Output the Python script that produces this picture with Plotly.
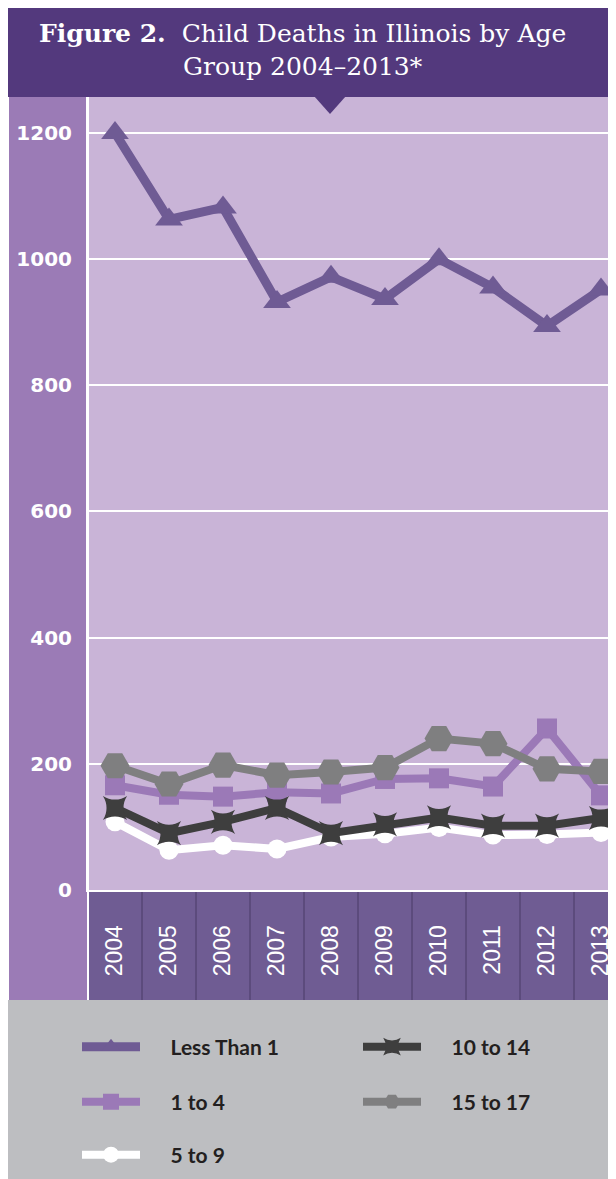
import plotly.graph_objects as go

# ---- data ----
years = ["2004", "2005", "2006", "2007", "2008", "2009", "2010", "2011", "2012", "2013"]
less_than_1 = [1200, 1063, 1082, 932, 972, 937, 1000, 955, 894, 952]
age_1_4 = [166, 151, 148, 155, 153, 176, 177, 164, 256, 150]
age_5_9 = [108, 63, 71, 65, 84, 89, 99, 87, 88, 91]
age_10_14 = [130, 90, 108, 130, 90, 104, 115, 102, 102, 114]
age_15_17 = [197, 168, 198, 182, 187, 194, 240, 232, 192, 188]
y_ticks = [0, 200, 400, 600, 800, 1000, 1200]

# ---- geometry (figure sits at an 8px page offset) ----
OFF = 8
W, H = 608, 1171
L, R, T, B = 80, 608, 89, 882          # plot area in figure pixels
BAND = 54.0                            # pixel width of one year column
def fx(p):  # window pixel x -> paper
    return (p - OFF - L) / (R - L)
def fy(p):  # window pixel y -> paper
    return (B - (p - OFF)) / (B - T)

BANNER = "#53397D"
LEFTCOL = "#9B7BB6"
PLOTBG = "#C9B4D7"
XBAND = "#6F5C93"
LEGBG = "#BDBEC1"

series = [
    ("Less Than 1", less_than_1, "#6F5B94", "triangle-up", 24, 9, "legend"),
    ("1 to 4", age_1_4, "#9B79B7", "square", 20, 8, "legend3"),
    ("5 to 9", age_5_9, "#FFFFFF", "circle", 19, 8, "legend5"),
    ("10 to 14", age_10_14, "#3E3E3E", "star-square", 22, 8, "legend2"),
    ("15 to 17", age_15_17, "#7F7F80", "hexagon2", 29, 8, "legend4"),
]
PAD = "\u00a0" * 5

fig = go.Figure()
for name, vals, col, sym, size, lw, leg in series:
    fig.add_trace(go.Scatter(
        x=years, y=vals, name=PAD + name, mode="lines+markers",
        line=dict(color=col, width=lw),
        marker=dict(symbol=sym, size=size, color=col, line=dict(width=0)),
        legend=leg, showlegend=True,
    ))

shapes = [
    dict(type="rect", xref="paper", yref="paper", x0=fx(8), x1=fx(8 + W), y0=fy(8), y1=fy(97),
         fillcolor=BANNER, line=dict(width=0), layer="below"),
    dict(type="path", xref="paper", yref="paper",
         path=f"M{fx(314)},{fy(96)} L{fx(346)},{fy(96)} L{fx(330)},{fy(114)} Z",
         fillcolor=BANNER, line=dict(width=0), layer="above"),
    dict(type="rect", xref="paper", yref="paper", x0=fx(9), x1=fx(88), y0=fy(97), y1=fy(1000),
         fillcolor=LEFTCOL, line=dict(width=0), layer="below"),
    dict(type="rect", xref="paper", yref="paper", x0=0, x1=1, y0=fy(890), y1=fy(1000),
         fillcolor=XBAND, line=dict(width=0), layer="below"),
    dict(type="rect", xref="paper", yref="paper", x0=fx(8), x1=fx(8 + W), y0=fy(1000), y1=fy(8 + H),
         fillcolor=LEGBG, line=dict(width=0), layer="below"),
    dict(type="line", xref="paper", yref="paper", x0=0, x1=0, y0=fy(97), y1=fy(1000),
         line=dict(color="white", width=2), layer="below"),
]
for i in range(len(years) - 1):
    shapes.append(dict(type="line", xref="x", yref="paper", x0=i + 0.5, x1=i + 0.5,
                       y0=fy(891), y1=fy(1000), line=dict(color="#4A3B66", width=1), layer="below"))

fig.update_layout(
    width=W, height=H,
    margin=dict(l=L, r=W - R, t=T, b=H - B, pad=0),
    paper_bgcolor="white", plot_bgcolor=PLOTBG,
    shapes=shapes,
    xaxis=dict(type="category", range=[-0.5, -0.5 + (R - L) / BAND], tickangle=-90,
               tickfont=dict(family="Liberation Sans", size=23, color="white"),
               ticklabelstandoff=24, showgrid=False, showline=True, linecolor="white",
               linewidth=2, ticks="", zeroline=False),
    yaxis=dict(range=[0, 1257], tickvals=y_ticks, ticks="",
               tickfont=dict(family="DejaVu Sans", size=20, color="white", weight="bold"),
               ticklabelstandoff=10, showgrid=True, gridcolor="white", gridwidth=2,
               showline=True, linecolor="white", linewidth=2,
               zeroline=True, zerolinecolor="white", zerolinewidth=2),
    annotations=[dict(
        xref="paper", yref="paper", x=fx(302), y=fy(50), xanchor="center", yanchor="middle",
        showarrow=False, align="center",
        text="<b>Figure 2.</b>  Child Deaths in Illinois by Age<br>Group 2004–2013*",
        font=dict(family="DejaVu Serif", size=25, color="white"),
    )],
    showlegend=True,
)

leg_common = dict(orientation="h", xref="paper", yref="paper", xanchor="left", yanchor="middle",
                  bgcolor="rgba(0,0,0,0)", borderwidth=0, itemwidth=58, visible=True,
                  itemclick=False, itemdoubleclick=False,
                  font=dict(family="Lato", size=21, color="#231F20", weight="bold"))
col1, col2 = fx(77), fx(358)
fig.update_layout(
    legend=dict(leg_common, x=col1, y=fy(1047)),
    legend2=dict(leg_common, x=col2, y=fy(1047)),
    legend3=dict(leg_common, x=col1, y=fy(1102)),
    legend4=dict(leg_common, x=col2, y=fy(1102)),
    legend5=dict(leg_common, x=col1, y=fy(1155)),
)

fig.write_html("out.html")
